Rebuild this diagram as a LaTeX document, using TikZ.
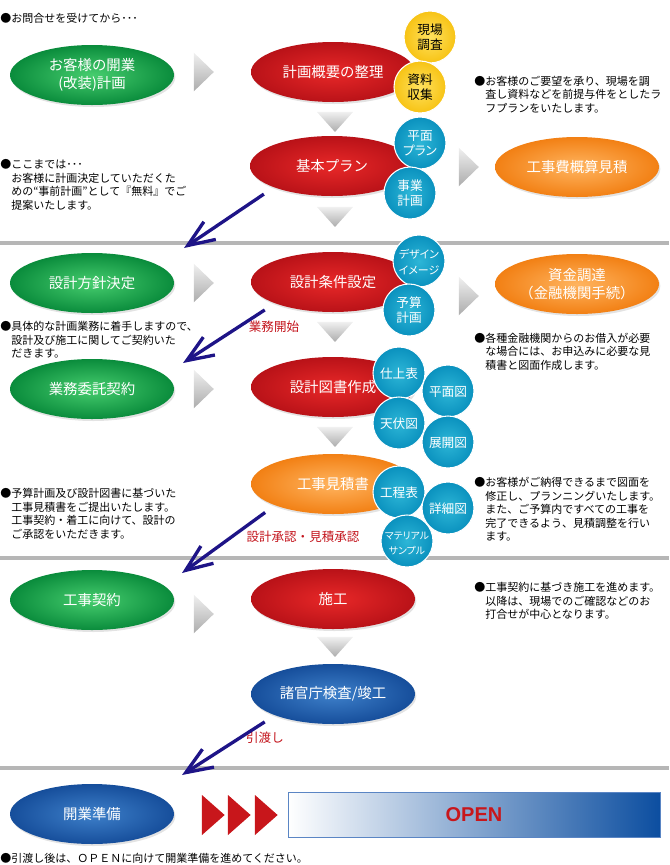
\documentclass[tikz,border=0pt]{standalone}
\usepackage{fontspec}
\setmainfont{Noto Sans CJK JP}
\newfontfamily\circfont[RawFeature=+palt]{Noto Sans CJK JP}
\newfontfamily\openfont{Liberation Sans}
\usetikzlibrary{arrows.meta,shapes.geometric,shadows}
\definecolor{GreenIn}{RGB}{70,205,110}
\definecolor{GreenOut}{RGB}{10,140,60}
\definecolor{RedIn}{RGB}{232,40,40}
\definecolor{RedOut}{RGB}{185,18,24}
\definecolor{OrangeIn}{RGB}{255,180,95}
\definecolor{OrangeOut}{RGB}{242,128,20}
\definecolor{BlueIn}{RGB}{62,128,202}
\definecolor{BlueOut}{RGB}{22,78,155}
\definecolor{CyanIn}{RGB}{45,182,215}
\definecolor{CyanOut}{RGB}{10,145,190}
\definecolor{YellowIn}{RGB}{255,226,95}
\definecolor{YellowOut}{RGB}{247,195,20}
\definecolor{Navy}{RGB}{30,20,135}
\definecolor{LabelRed}{RGB}{195,20,28}
\definecolor{SepGray}{RGB}{182,182,182}
\definecolor{OpenBlue}{RGB}{12,78,160}
\definecolor{OpenEdge}{RGB}{90,133,196}
\definecolor{MarkRed}{RGB}{200,22,27}
\newcommand{\circtxt}[1]{\makebox[0pt]{\raisebox{-3.8pt}[0pt][0pt]{\begin{tabular}{@{}c@{}}#1\end{tabular}}}}

\begin{document}
\begin{tikzpicture}[x=0.75pt, y=-0.75pt,
 oval/.style={ellipse, minimum width=123pt, minimum height=45pt, inner sep=0pt, align=center, text=white, font=\fontsize{10.8}{13}\selectfont, drop shadow={opacity=0.22, shadow xshift=1pt, shadow yshift=-1.5pt}},
 greenoval/.style={oval, inner color=GreenIn, outer color=GreenOut},
 redoval/.style={oval, inner color=RedIn, outer color=RedOut},
 orangeoval/.style={oval, inner color=OrangeIn, outer color=OrangeOut},
 blueoval/.style={oval, inner color=BlueIn, outer color=BlueOut},
 circ/.style={circle, minimum size=39pt, inner sep=0pt, draw=white, line width=0.8pt, font=\circfont\fontsize{9.5}{11.5}\selectfont},
 bluecirc/.style={circ, inner color=CyanIn, outer color=CyanOut, text=white},
 yellowcirc/.style={circ, inner color=YellowIn, outer color=YellowOut, text=black},
 katakana/.style={font=\circfont\fontsize{#1}{11.5}\selectfont},
 nextarr/.style={isosceles triangle, isosceles triangle stretches, inner sep=0pt, minimum height=15pt, minimum width=29pt, top color=gray!12, bottom color=gray!65},
 downarr/.style={nextarr, shape border rotate=270, minimum height=15pt, minimum width=27pt},
 redmark/.style={isosceles triangle, isosceles triangle stretches, inner sep=0pt, minimum height=17pt, minimum width=30pt, fill=MarkRed},
 note/.style={align=left, inner sep=0pt, anchor=north west, font=\fontsize{8.25}{10.2}\selectfont},
 lbl/.style={text=LabelRed, inner sep=0pt, font=\fontsize{9.4}{11}\selectfont},
 sep/.style={SepGray, line width=3pt},
 navyarr/.style={Navy, line width=2.5pt, -{Straight Barb[length=20pt,width=16pt]}, shorten <=9pt},
 openbox/.style={rectangle, minimum width=279pt, minimum height=33.75pt, inner sep=0pt, draw=OpenEdge, line width=0.75pt, left color=white, right color=OpenBlue, text=MarkRed, font=\openfont\bfseries\fontsize{15}{18}\selectfont}
]
\useasboundingbox (0,0) rectangle (669,865);

\draw[sep] (0,243) -- (669,243);
\draw[sep] (0,558) -- (669,558);
\draw[sep] (0,768) -- (669,768);

\node[note, anchor=west] (n0) at (0,18) {●お問合せを受けてから･･･};

\node[greenoval] (plan) at (92,75) {お客様の開業\\(改装)計画};
\node[nextarr] (r1) at (202,72) {};
\node[redoval] (gaiyo) at (333,72) {計画概要の整理};
\node[yellowcirc] (genba) at (430,37) {\circtxt{現場\\調査}};
\node[yellowcirc] (shiryo) at (420,87) {\circtxt{資料\\収集}};
\node[note] (n1) at (474,75.5) {●お客様のご要望を承り、現場を調\\\hspace*{1em}査し資料などを前提与件をとしたラ\\\hspace*{1em}フプランをいたします。};
\node[downarr] (d1) at (335,120) {};

\node[redoval] (kihon) at (332,166) {基本プラン};
\node[bluecirc] (hplan) at (420,143) {\circtxt{平面\\プラン}};
\node[bluecirc] (jigyo) at (410,193) {\circtxt{事業\\計画}};
\node[nextarr] (r2) at (467,167) {};
\node[orangeoval] (gaisan) at (577,167) {工事費概算見積};
\node[note] (n2) at (0,159) {●ここまでは･･･\\\hspace*{1em}お客様に計画決定していただくた\\\hspace*{1em}めの“事前計画”として『無料』でご\\\hspace*{1em}提案いたします。};
\node[downarr] (d2) at (335,215) {};

\node[greenoval] (hoshin) at (92,283) {設計方針決定};
\node[nextarr] (r3) at (202,283) {};
\node[redoval] (joken) at (333,282) {設計条件設定};
\node[bluecirc, katakana=8.2] (design) at (419,261) {\circtxt{デザイン\\イメージ}};
\node[bluecirc] (yosan) at (409,310) {\circtxt{予算\\計画}};
\node[nextarr] (r4) at (467,296) {};
\node[orangeoval] (shikin) at (577,284) {資金調達\\（金融機関手続）};
\node[note] (n3) at (0,321) {●具体的な計画業務に着手しますので、\\\hspace*{1em}設計及び施工に関してご契約いた\\\hspace*{1em}だきます。};
\node[note] (n4) at (474,332.5) {●各種金融機関からのお借入が必要\\\hspace*{1em}な場合には、お申込みに必要な見\\\hspace*{1em}積書と図面作成します。};
\node[lbl] (l1) at (274,327) {業務開始};
\node[downarr] (d3) at (335,330) {};

\node[greenoval] (itaku) at (92,389) {業務委託契約};
\node[nextarr] (r5) at (202,389) {};
\node[redoval] (zusho) at (333,387) {設計図書作成};
\node[bluecirc] (shiage) at (399,373) {\circtxt{仕上表}};
\node[bluecirc] (heimen) at (448,391) {\circtxt{平面図}};
\node[bluecirc] (tenbuse) at (399,423) {\circtxt{天伏図}};
\node[bluecirc] (tenkai) at (448,442) {\circtxt{展開図}};
\node[downarr] (d4) at (335,435) {};

\node[orangeoval] (mitsumori) at (333,484) {工事見積書};
\node[bluecirc] (koutei) at (399,492) {\circtxt{工程表}};
\node[bluecirc] (shosai) at (448,508) {\circtxt{詳細図}};
\node[bluecirc, katakana=7.4] (sample) at (407,541) {\circtxt{マテリアル\\サンプル}};
\node[note] (n5) at (0,488) {●予算計画及び設計図書に基づいた\\\hspace*{1em}工事見積書をご提出いたします。\\\hspace*{1em}工事契約・着工に向けて、設計の\\\hspace*{1em}ご承認をいただきます。};
\node[note] (n6) at (474,477) {●お客様がご納得できるまで図面を\\\hspace*{1em}修正し、プランニングいたします。\\\hspace*{1em}また、ご予算内ですべての工事を\\\hspace*{1em}完了できるよう、見積調整を行い\\\hspace*{1em}ます。};
\node[lbl] (l2) at (303,537) {設計承認・見積承認};

\node[greenoval] (keiyaku) at (92,600) {工事契約};
\node[nextarr] (r6) at (202,614) {};
\node[redoval] (sekou) at (333,599) {施工};
\node[note] (n7) at (474,582) {●工事契約に基づき施工を進めます。\\\hspace*{1em}以降は、現場でのご確認などのお\\\hspace*{1em}打合せが中心となります。};
\node[downarr] (d5) at (335,645) {};

\node[blueoval] (kensa) at (333,694) {諸官庁検査/竣工};
\node[lbl] (l3) at (265,738) {引渡し};

\node[blueoval] (kaigyo) at (92,814) {開業準備};
\node[redmark] (m1) at (211,815) {};
\node[redmark] (m2) at (237,815) {};
\node[redmark] (m3) at (264,815) {};
\node[openbox] (open) at (474,814.5) {OPEN};
\node[note, anchor=west] (n8) at (0,858) {●引渡し後は、ＯＰＥＮに向けて開業準備を進めてください。};

\coordinate (e1) at (184,248);
\coordinate (e2) at (183,363);
\coordinate (e3) at (182,573);
\coordinate (e4) at (182,775);
\draw[navyarr] (kihon.south west) -- (e1);
\draw[navyarr] (joken.south west) -- (e2);
\draw[navyarr] (mitsumori.south west) -- (e3);
\draw[navyarr] (kensa.south west) -- (e4);
\end{tikzpicture}
\end{document}
